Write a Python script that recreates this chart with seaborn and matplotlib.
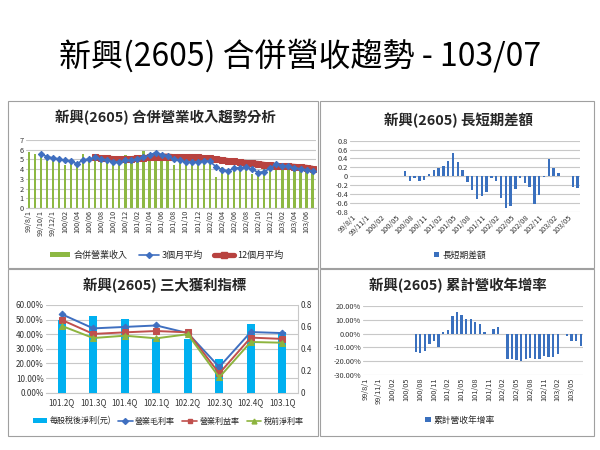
import numpy as np
import pandas as pd
import matplotlib
matplotlib.use("Agg")
import matplotlib.pyplot as plt
import seaborn as sns
from matplotlib.patches import Rectangle
from matplotlib.lines import Line2D
from matplotlib.ticker import FuncFormatter

sns.set_style("white")
plt.rcParams["font.family"] = ["Noto Sans CJK TC", "DejaVu Sans"]
plt.rcParams["axes.unicode_minus"] = False
plt.rcParams["patch.force_edgecolor"] = False

# ---------------- data ----------------
months = ["99/8/1", "99/9/1", "99/10/1", "99/11/1", "99/12/1"] + \
         [f"{y}/{m:02d}" for y in (100, 101, 102) for m in range(1, 13)] + \
         [f"103/{m:02d}" for m in range(1, 8)]

revenue = [5.8, 5.55, 5.3, 5.0, 5.1, 5.0, 4.4, 4.9, 4.4, 5.55, 5.1, 5.2,
           4.7, 4.9, 4.6, 4.6, 5.5, 4.6, 5.0, 5.9, 5.5, 5.6, 5.2, 5.3,
           4.4, 5.0, 4.6, 4.6, 5.0, 4.9, 4.5, 3.2, 4.2, 4.0, 4.2, 4.3,
           4.2, 3.5, 3.7, 4.0, 4.6, 4.5, 4.0, 4.4, 4.0, 3.8, 3.9, 3.7]

avg3 = [None, None, 5.55, 5.3, 5.15, 5.05, 4.9, 4.8, 4.55, 4.95, 5.05, 5.2,
        5.0, 4.95, 4.75, 4.7, 4.9, 4.9, 5.05, 5.2, 5.45, 5.7, 5.5, 5.35,
        5.0, 4.9, 4.7, 4.75, 4.75, 4.85, 4.8, 4.25, 3.95, 3.8, 4.1, 4.15,
        4.2, 4.0, 3.65, 3.75, 4.1, 4.55, 4.35, 4.3, 4.1, 4.05, 3.9, 3.8]

avg12 = [None] * 11 + [5.2, 5.15, 5.1, 5.05, 5.0, 5.0, 5.05, 5.1, 5.15, 5.2,
                       5.25, 5.3, 5.3, 5.25, 5.25, 5.2, 5.2, 5.2, 5.15, 5.1,
                       5.0, 4.95, 4.85, 4.8, 4.7, 4.65, 4.6, 4.55, 4.45, 4.4,
                       4.35, 4.3, 4.3, 4.25, 4.2, 4.15, 4.05]

diff = [None] * 11 + [0.11, -0.1, -0.05, -0.1, -0.08, 0.05, 0.15, 0.18, 0.23, 0.34,
                      0.53, 0.33, 0.13, -0.13, -0.32, -0.51, -0.44, -0.35, -0.05, -0.1,
                      -0.48, -0.72, -0.67, -0.28, -0.05, -0.15, -0.25, -0.63, -0.42, -0.02,
                      0.38, 0.19, 0.07, 0.0, 0.0, -0.25, -0.26]

cum_yoy = [None] * 11 + [-0.13, -0.14, -0.125, -0.072, -0.055, -0.10, 0.008, 0.027, 0.124, 0.157,
                         0.13, 0.108, 0.108, 0.086, 0.066, 0.01, -0.005, 0.03, 0.05, 0.0,
                         -0.18, -0.185, -0.19, -0.20, -0.18, -0.175, -0.185, -0.18, -0.16, -0.165,
                         -0.165, -0.15, -0.006, -0.015, -0.055, -0.05, -0.087]

quarters = ["101.2Q", "101.3Q", "101.4Q", "102.1Q", "102.2Q", "102.3Q", "102.4Q", "103.1Q"]
eps = [0.665, 0.70, 0.67, 0.50, 0.49, 0.31, 0.63, 0.55]
gross_margin = [0.537, 0.44, 0.45, 0.46, 0.408, 0.176, 0.415, 0.408]
op_margin = [0.498, 0.402, 0.413, 0.422, 0.413, 0.132, 0.377, 0.368]
pretax_margin = [0.457, 0.374, 0.39, 0.372, 0.40, 0.105, 0.347, 0.342]

W, H = 600, 450
GREEN = "#8DB843"
BLUE = "#3F6FC0"
RED = "#C0504D"
REDLINE = "#B8423F"
BARBLUE = "#3A70BE"
CYAN = "#00B0F0"
TRI = "#8DB43E"
GRID = "#C8C8C8"
TXT = "#333333"

fig = plt.figure(figsize=(6, 4.5), dpi=100)
fig.patch.set_facecolor("white")


def ax_px(x0, y0, x1, y1):
    return fig.add_axes([x0 / W, 1 - y1 / H, (x1 - x0) / W, (y1 - y0) / H])


def style(ax):
    for s in ax.spines.values():
        s.set_visible(False)
    ax.yaxis.grid(True, color=GRID, lw=0.8)
    ax.xaxis.grid(False)
    ax.set_axisbelow(True)
    ax.tick_params(length=0, labelsize=5.3, colors=TXT, pad=1.5)
    ax.set_xlabel("")
    ax.set_ylabel("")
    ax.set_facecolor("none")


# frames
for (x0, y0, x1, y1) in [(8, 101, 318, 268), (320, 101, 594, 268),
                         (8, 269, 318, 436), (320, 269, 594, 436)]:
    fig.add_artist(Rectangle((x0 / W, 1 - y1 / H), (x1 - x0) / W, (y1 - y0) / H,
                             transform=fig.transFigure, fill=False, ec="#A0A0A0", lw=0.8))

fig.text(0.5, 1 - 56 / H, "新興(2605) 合併營收趨勢 - 103/07", ha="center", va="center",
         fontsize=23, color="black")

idx = np.arange(len(months))

# ---------------- panel 1 ----------------
ax1 = ax_px(25.7, 140, 315.6, 208)
sns.barplot(x=months, y=revenue, order=months, color=GREEN, width=0.38, saturation=1,
            linewidth=0, edgecolor="none", ax=ax1)
d3 = pd.DataFrame({"i": idx, "v": avg3}).dropna()
d12 = pd.DataFrame({"i": idx, "v": avg12}).dropna()
sns.lineplot(data=d12, x="i", y="v", ax=ax1, color=REDLINE, lw=4.2, marker="s", markersize=4,
             markeredgecolor=REDLINE, estimator=None, legend=False, zorder=3)
sns.lineplot(data=d3, x="i", y="v", ax=ax1, color=BLUE, lw=1.2, marker="D", markersize=3.2,
             markeredgecolor=BLUE, estimator=None, legend=False, zorder=4)
style(ax1)
ax1.spines["bottom"].set_visible(True)
ax1.spines["bottom"].set_color(GRID)
ax1.set_ylim(0, 7)
ax1.set_yticks(range(0, 8))
ax1.set_xlim(-0.5, len(months) - 0.5)
ax1.set_xticks(idx[::2])
ax1.set_xticklabels(months[::2], rotation=90, fontsize=5.2)
fig.text(165 / W, 1 - 117 / H, "新興(2605) 合併營業收入趨勢分析", ha="center", va="center",
         fontsize=10.4, fontweight="bold")
fig.legend([Rectangle((0, 0), 1, 1, fc=GREEN, lw=0),
            Line2D([], [], color=BLUE, lw=1.2, marker="D", ms=3),
            Line2D([], [], color=REDLINE, lw=3.8, marker="s", ms=4.5)],
           ["合併營業收入", "3個月平均", "12個月平均"], loc="center",
           bbox_to_anchor=(167 / W, 1 - 255 / H), ncol=3, frameon=False, fontsize=6.5,
           handlelength=2.2, handleheight=0.5, columnspacing=1.2, handletextpad=0.4)

# ---------------- panel 2 ----------------
ax2 = ax_px(350, 140.7, 580, 211.7)
sns.barplot(x=months, y=diff, order=months, color=BARBLUE, width=0.5, saturation=1,
            linewidth=0, edgecolor="none", ax=ax2)
style(ax2)
ax2.set_ylim(-0.8, 0.8)
ax2.set_yticks(np.round(np.arange(-0.8, 0.81, 0.2), 1))
ax2.yaxis.set_major_formatter(FuncFormatter(lambda v, p: "0" if abs(v) < 1e-9 else f"{v:g}"))
ax2.set_xlim(-0.5, len(months) - 0.5)
ax2.set_xticks(idx[::3])
ax2.set_xticklabels(months[::3], rotation=45, ha="right", rotation_mode="anchor", fontsize=5.3)
fig.text(458 / W, 1 - 120 / H, "新興(2605) 長短期差額", ha="center", va="center",
         fontsize=10.4, fontweight="bold")
fig.legend([Rectangle((0, 0), 1, 1, fc=BARBLUE, lw=0)], ["長短期差額"], loc="center",
           bbox_to_anchor=(460 / W, 1 - 255 / H), frameon=False, fontsize=6.3,
           handlelength=0.6, handleheight=0.6, handletextpad=0.3)

# ---------------- panel 3 ----------------
ax3 = ax_px(46, 305, 298, 392.7)
ax3b = ax3.twinx()
ax3c = ax3.twinx()
sns.barplot(x=quarters, y=eps, order=quarters, color=CYAN, width=0.26, saturation=1,
            linewidth=0, edgecolor="none", ax=ax3b)
qi = np.arange(len(quarters))
for vals, col, mk, ms in [(gross_margin, BLUE, "D", 3.4), (op_margin, RED, "s", 4.2),
                          (pretax_margin, TRI, "^", 4.4)]:
    dq = pd.DataFrame({"i": qi, "v": vals})
    sns.lineplot(data=dq, x="i", y="v", ax=ax3c, color=col, lw=1.4, marker=mk, markersize=ms,
                 markeredgecolor=col, estimator=None, legend=False)
style(ax3)
ax3.set_ylim(0, 0.6)
ax3.set_yticks(np.round(np.arange(0, 0.61, 0.1), 1))
ax3.yaxis.set_major_formatter(FuncFormatter(lambda v, p: f"{v * 100:.2f}%"))
ax3.spines["bottom"].set_visible(True)
ax3.spines["bottom"].set_color(GRID)
for a in (ax3b, ax3c):
    for s in a.spines.values():
        s.set_visible(False)
    a.set_xlabel("")
    a.set_ylabel("")
    a.grid(False)
ax3b.set_ylim(0, 0.8)
ax3b.set_yticks([0, 0.2, 0.4, 0.6, 0.8])
ax3b.yaxis.set_major_formatter(FuncFormatter(lambda v, p: "0" if v == 0 else f"{v:g}"))
ax3b.spines["right"].set_visible(True)
ax3b.spines["right"].set_color(GRID)
ax3b.tick_params(length=0, labelsize=5.8, colors=TXT, pad=2)
ax3c.set_ylim(0, 0.6)
ax3c.set_yticks([])
ax3.tick_params(labelsize=5.8)
ax3.set_xlim(-0.5, len(quarters) - 0.5)
ax3.set_xticks(qi)
ax3.set_xticklabels(quarters, fontsize=5.8)
ax3.tick_params(axis="x", pad=4)
fig.text(165 / W, 1 - 285 / H, "新興(2605) 三大獲利指標", ha="center", va="center",
         fontsize=10.4, fontweight="bold")
fig.legend([Rectangle((0, 0), 1, 1, fc=CYAN, lw=0),
            Line2D([], [], color=BLUE, lw=1.2, marker="D", ms=3),
            Line2D([], [], color=RED, lw=1.2, marker="s", ms=3.5),
            Line2D([], [], color=TRI, lw=1.2, marker="^", ms=3.5)],
           ["每股稅後淨利(元)", "營業毛利率", "營業利益率", "稅前淨利率"], loc="center",
           bbox_to_anchor=(168 / W, 1 - 421 / H), ncol=4, frameon=False, fontsize=5.8,
           handlelength=1.8, handleheight=0.6, columnspacing=0.9, handletextpad=0.3)

# ---------------- panel 4 ----------------
ax4 = ax_px(363, 305.7, 583, 375.3)
sns.barplot(x=months, y=cum_yoy, order=months, color=BARBLUE, width=0.5, saturation=1,
            linewidth=0, edgecolor="none", ax=ax4)
style(ax4)
ax4.set_ylim(-0.3, 0.2)
ax4.set_yticks(np.round(np.arange(-0.3, 0.21, 0.1), 1))
ax4.yaxis.set_major_formatter(FuncFormatter(lambda v, p: f"{v * 100:.2f}%".replace("-0.00", "0.00")))
ax4.set_xlim(-0.5, len(months) - 0.5)
ax4.set_xticks(idx[::3])
ax4.set_xticklabels(months[::3], rotation=90, fontsize=5.3)
fig.text(458 / W, 1 - 285 / H, "新興(2605) 累計營收年增率", ha="center", va="center",
         fontsize=10.4, fontweight="bold")
fig.legend([Rectangle((0, 0), 1, 1, fc=BARBLUE, lw=0)], ["累計營收年增率"], loc="center",
           bbox_to_anchor=(460 / W, 1 - 420 / H), frameon=False, fontsize=6.3,
           handlelength=0.6, handleheight=0.6, handletextpad=0.3)

fig.savefig("out.png", dpi=100, facecolor="white")
